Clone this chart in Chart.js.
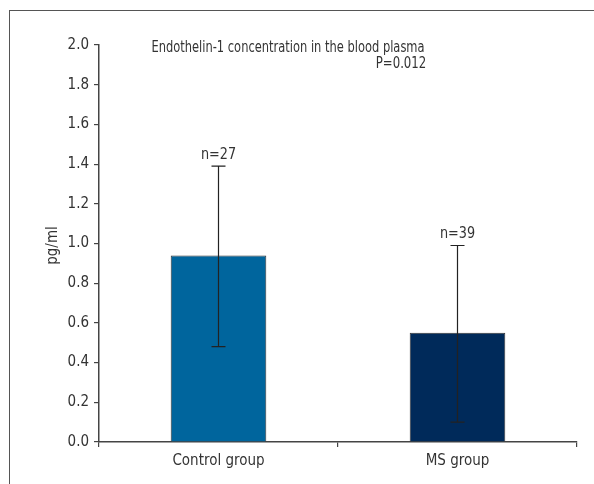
<!DOCTYPE html>
<html>
<head>
<meta charset="utf-8">
<script src="https://cdn.jsdelivr.net/npm/chart.js@4.4.0/dist/chart.umd.min.js"></script>
<style>
  html, body { margin: 0; padding: 0; background: #fff; }
  #wrap { position: relative; width: 594px; height: 484px; overflow: hidden; }
  #frame { position: absolute; left: 9px; top: 10px; width: 700px; height: 600px; border: 1px solid #555; }
  canvas { position: absolute; left: 0; top: 0; }
</style>
</head>
<body>
<div id="wrap">
  <div id="frame"></div>
  <canvas id="c" width="594" height="484"></canvas>
</div>
<script>
const categories = ['Control group', 'MS group'];
const means = [0.94, 0.55];
const errLow = [0.48, 0.10];
const errHigh = [1.39, 0.99];
const nLabels = ['n=27', 'n=39'];
const yTicks = ['0.0', '0.2', '0.4', '0.6', '0.8', '1.0', '1.2', '1.4', '1.6', '1.8', '2.0'];
const titleText = 'Endothelin-1 concentration in the blood plasma';
const pText = 'P=0.012';
const yTitle = 'pg/ml';

const FONT = "'DejaVu Sans Condensed', sans-serif";
const ink = '#333';

// squeezed text, the original uses a narrower face
function narrowText(ctx, txt, x, y, sx) {
  ctx.save();
  ctx.translate(x, y);
  ctx.scale(sx, 1);
  ctx.fillText(txt, 0, 0);
  ctx.restore();
}

// error bars, n labels, title, y title
const extras = {
  id: 'extras',
  afterDatasetsDraw(chart) {
    const ctx = chart.ctx;
    const x = chart.scales.x, y = chart.scales.y;
    ctx.save();
    ctx.strokeStyle = '#222';
    ctx.lineWidth = 1.2;
    ctx.fillStyle = ink;
    ctx.font = '15px ' + FONT;
    ctx.textAlign = 'center';
    ctx.textBaseline = 'alphabetic';
    for (let i = 0; i < categories.length; i++) {
      const cx = x.getPixelForValue(i);
      const top = y.getPixelForValue(errHigh[i]);
      const bot = y.getPixelForValue(errLow[i]);
      ctx.beginPath();
      ctx.moveTo(cx, top); ctx.lineTo(cx, bot);
      ctx.moveTo(cx - 7, top); ctx.lineTo(cx + 7, top);
      ctx.moveTo(cx - 7, bot); ctx.lineTo(cx + 7, bot);
      ctx.stroke();
      narrowText(ctx, nLabels[i], cx, top - 7, 0.95);
    }
    narrowText(ctx, titleText, 288, 52, 0.85);
    narrowText(ctx, pText, 401, 68, 0.87);
    const a = chart.chartArea;
    ctx.translate(53, (a.top + a.bottom) / 2 + 2);
    ctx.rotate(-Math.PI / 2);
    ctx.textBaseline = 'middle';
    ctx.fillText(yTitle, 0, 0);
    ctx.restore();
  }
};

new Chart(document.getElementById('c'), {
  type: 'bar',
  data: {
    labels: categories,
    datasets: [{
      data: means,
      backgroundColor: ['#00659d', '#002a5a'],
      borderColor: '#333',
      borderWidth: 1,
      barPercentage: 0.4,
      categoryPercentage: 1.0
    }]
  },
  options: {
    responsive: false,
    animation: false,
    layout: { padding: { left: 0, right: 17, top: 45, bottom: 9 } },
    plugins: { legend: { display: false }, tooltip: { enabled: false }, title: { display: false } },
    scales: {
      x: {
        offset: true,
        grid: { offset: true, drawOnChartArea: false, drawTicks: true, tickLength: 5, color: '#444', lineWidth: 1.2 },
        border: { color: '#444', width: 1.5 },
        ticks: { color: ink, font: { family: FONT, size: 15 }, padding: 5 }
      },
      y: {
        min: 0, max: 2,
        afterFit(s) { s.width = 99; },
        grid: { drawOnChartArea: false, drawTicks: true, tickLength: 5, color: '#444', lineWidth: 1.2 },
        border: { color: '#444', width: 1.5 },
        ticks: {
          stepSize: 0.2, color: ink, padding: 5,
          font: { family: FONT, size: 15 },
          callback: (v, i) => yTicks[i]
        }
      }
    }
  },
  plugins: [extras]
});
</script>
</body>
</html>
